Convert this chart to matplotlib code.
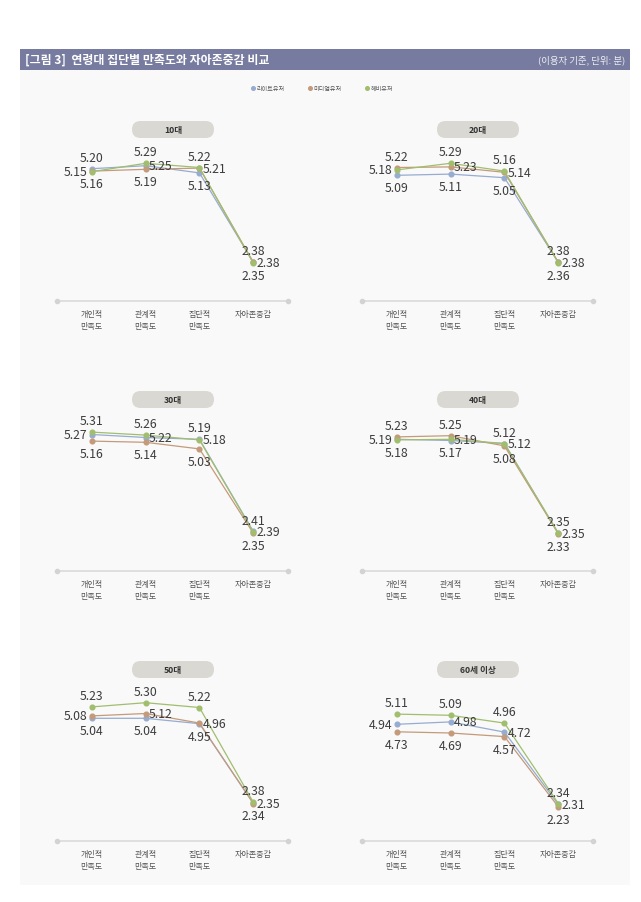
import matplotlib
matplotlib.use("Agg")
import numpy as np
import matplotlib.pyplot as plt
from matplotlib.patches import Rectangle, FancyBboxPatch
from matplotlib.lines import Line2D

plt.rcParams['font.family'] = ['Noto Sans CJK KR', 'DejaVu Sans']

# data
age_groups = ['10대', '20대', '30대', '40대', '50대', '60세 이상']
categories = ['개인적\n만족도', '관계적\n만족도', '집단적\n만족도', '자아존중감']
series_names = ['라이트유저', '미디엄유저', '헤비유저']

light = [[5.20, 5.25, 5.13, 2.38],
         [5.09, 5.11, 5.05, 2.38],
         [5.27, 5.22, 5.19, 2.41],
         [5.19, 5.17, 5.12, 2.35],
         [5.04, 5.04, 4.95, 2.35],
         [4.94, 4.98, 4.72, 2.31]]
medium = [[5.16, 5.19, 5.21, 2.38],
          [5.22, 5.23, 5.14, 2.38],
          [5.16, 5.14, 5.03, 2.35],
          [5.23, 5.25, 5.08, 2.33],
          [5.08, 5.12, 4.96, 2.34],
          [4.73, 4.69, 4.57, 2.23]]
heavy = [[5.15, 5.29, 5.22, 2.35],
         [5.18, 5.29, 5.16, 2.36],
         [5.31, 5.26, 5.18, 2.39],
         [5.18, 5.19, 5.12, 2.35],
         [5.23, 5.30, 5.22, 2.38],
         [5.11, 5.09, 4.96, 2.34]]

# where each value label sits: a=above, b=below, l=left, r=right
light_pos = [['a', 'r', 'b', 'a'], ['b', 'b', 'b', 'a'], ['l', 'r', 'a', 'a'],
             ['l', 'b', 'r', 'r'], ['b', 'b', 'b', 'r'], ['l', 'r', 'r', 'r']]
medium_pos = [['b', 'b', 'r', 'r'], ['a', 'r', 'r', 'r'], ['b', 'b', 'b', 'b'],
              ['a', 'a', 'b', 'b'], ['l', 'r', 'r', 'b'], ['b', 'b', 'b', 'b']]
heavy_pos = [['l', 'a', 'a', 'b'], ['l', 'a', 'a', 'b'], ['a', 'a', 'r', 'r'],
             ['b', 'r', 'a', 'a'], ['a', 'a', 'a', 'a'], ['a', 'a', 'a', 'a']]

colors = ['#96acd0', '#c49a7a', '#a0be6e']

# y axis is stretched above 4.9 so the satisfaction lines separate
brk, stretch = 4.9, 2.0

def fwd(y):
    y = np.asarray(y, dtype=float)
    return np.where(y < brk, y, brk + stretch * (y - brk))

def inv(f):
    f = np.asarray(f, dtype=float)
    return np.where(f < brk, f, brk + (f - brk) / stretch)

W, H = 641, 903
fig = plt.figure(figsize=(W / 100, H / 100), dpi=100)
fig.patch.set_facecolor('white')
tr = fig.dpi_scale_trans

def inch(x, y):
    return x / 100, (H - y) / 100

# background panel and header bar
fig.patches.append(Rectangle(inch(20, 886), 6.10, (886 - 71) / 100, transform=tr,
                             facecolor='#f9f9f9', edgecolor='none', zorder=-2))
fig.patches.append(Rectangle(inch(20, 71), 6.10, 0.21, transform=tr,
                             facecolor='#777b9f', edgecolor='none', zorder=-2))
fig.text(25 / W, 1 - 60.5 / H, '[그림 3]  연령대 집단별 만족도와 자아존중감 비교',
         color='white', fontsize=8.6, fontweight='bold', ha='left', va='center')
fig.text(625 / W, 1 - 60.5 / H, '(이용자 기준, 단위: 분)', color='#eeeef4',
         fontsize=6.8, ha='right', va='center')

# legend
handles = [Line2D([], [], ls='none', marker='o', ms=2.6, color=c) for c in colors]
fig.legend(handles, series_names, loc='center', bbox_to_anchor=(322 / W, 1 - 89 / H),
           ncol=3, frameon=False, fontsize=4.4, handlelength=0.6, handletextpad=0.3,
           columnspacing=3.8, labelcolor='#555555')

offsets = {'a': (0, 8.2, 'center', 'center'), 'b': (0, -9.0, 'center', 'center'),
           'l': (-3.0, 0, 'right', 'center'), 'r': (2.2, 0, 'left', 'center')}

all_series = [light, medium, heavy]
all_pos = [light_pos, medium_pos, heavy_pos]

for k, age in enumerate(age_groups):
    col, row = k % 2, k // 2
    left = 57.3 + 305 * col
    base = 301.7 + 270 * row
    ax = fig.add_axes([left / W, (H - base) / H, 231 / W, 150 / H])
    ax.patch.set_alpha(0)
    ax.set_yscale('function', functions=(fwd, inv))
    ax.set_xlim(-0.64, 3.65)
    ax.set_ylim(1.1, 5.5)
    for sp in ax.spines.values():
        sp.set_visible(False)
    ax.set_yticks([])
    ax.yaxis.set_minor_locator(matplotlib.ticker.NullLocator())
    ax.set_xticks(range(len(categories)))
    ax.set_xticklabels(categories, fontsize=5.8, color='#555555', linespacing=1.4,
                       va='top')
    ax.tick_params(axis='x', length=0, pad=6.3)

    ax.plot([0, 1], [0, 0], transform=ax.transAxes, color='#dadada', lw=1.2,
            marker='o', ms=3, mfc='#d3d3d3', mec='#d3d3d3', clip_on=False, zorder=1)

    x = list(range(len(categories)))
    for s in range(3):
        vals = all_series[s][k]
        ax.plot(x, vals, color=colors[s], lw=0.9, marker='o', ms=3.4,
                clip_on=False, zorder=3 + s)
        for i, v in enumerate(vals):
            dx, dy, ha, va = offsets[all_pos[s][k][i]]
            ax.annotate(f'{v:.2f}', (i, v), xytext=(dx, dy), textcoords='offset points',
                        ha=ha, va=va, fontsize=8.8, fontweight='light',
                        color='#3c3c3c', zorder=10)

    # group title pill
    cx, cy = 173 + 305 * col, 130.5 + 270 * row
    pw, ph = 82, 17
    fig.patches.append(FancyBboxPatch(inch(cx - pw / 2, cy + ph / 2), pw / 100, ph / 100,
                                      boxstyle='round,pad=0,rounding_size=0.085',
                                      transform=tr, facecolor='#d9d8d3',
                                      edgecolor='none', zorder=1))
    fig.text(cx / W, 1 - cy / H, age, fontsize=6.2, fontweight='bold', color='#333333',
             ha='center', va='center')

fig.savefig('out.png', dpi=100)
